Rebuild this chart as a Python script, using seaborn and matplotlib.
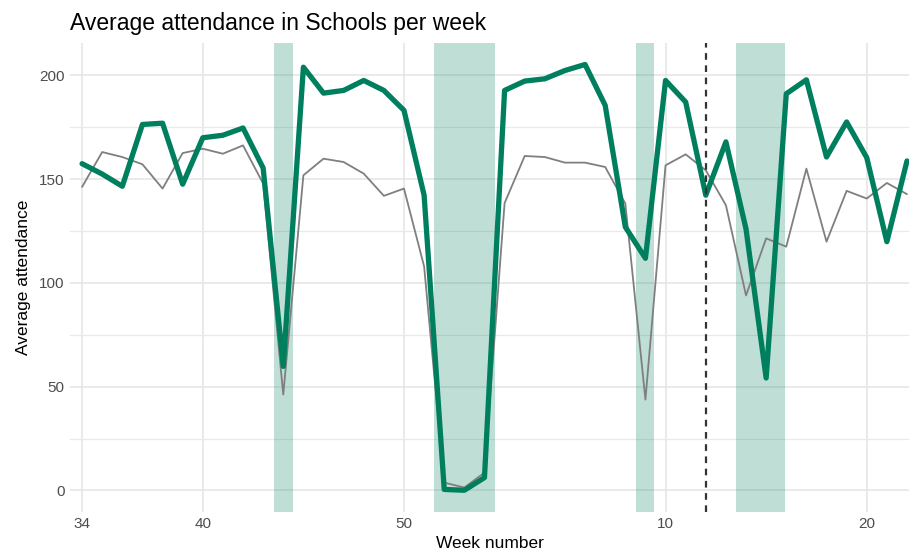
import numpy as np
import pandas as pd
import matplotlib
matplotlib.use("Agg")
import matplotlib.pyplot as plt
import seaborn as sns

# weeks: 2020 weeks 34-53, then 2021 weeks 1-22 (running index continues after 53)
weeks_2020 = list(range(34, 54))
weeks_2021 = list(range(1, 23))
week_index = weeks_2020 + [53 + w for w in weeks_2021]

attendance_school = [157.5, 152.5, 146.6, 176.4, 177.0, 147.6, 170.0, 171.2, 174.7, 155.4,
                     59.8, 204.0, 191.5, 192.8, 197.6, 192.8, 183.2, 142.3, 0.5, 0.1,
                     6.2, 192.8, 197.3, 198.4, 202.4, 205.3, 185.6, 127.0, 111.9, 197.6,
                     187.2, 142.3, 168.0, 126.0, 54.2, 191.2, 197.9, 160.7, 177.6, 160.4,
                     119.9, 158.8]
attendance_all = [146.3, 163.1, 160.7, 157.2, 145.5, 162.6, 164.7, 162.3, 166.3, 147.9,
                  46.2, 151.9, 159.9, 158.3, 152.7, 142.0, 145.5, 108.0, 3.8, 1.4,
                  8.6, 138.5, 161.2, 160.7, 158.0, 158.0, 155.9, 138.3, 43.8, 156.7,
                  162.0, 154.3, 137.5, 94.0, 121.5, 117.5, 155.1, 119.9, 144.4, 140.7,
                  148.2, 142.8]

# holiday periods (week index units)
holiday_start = [43.53, 51.5, 61.54, 66.5]
holiday_end = [44.47, 54.5, 62.44, 68.95]
marker_week = 65.0

tick_pos = [34, 40, 50, 63, 73]
tick_labels = ["34", "40", "50", "10", "20"]

df = pd.DataFrame({"week": week_index,
                   "school": attendance_school,
                   "all": attendance_all})

sns.set_theme(style="white")
plt.rcParams["font.family"] = ["Liberation Sans", "DejaVu Sans"]

green = "#007F5F"

fig = plt.figure(figsize=(9.09, 5.6), dpi=100)
ax = fig.add_axes([0.077, 0.086, 0.923, 0.837])

for s, e in zip(holiday_start, holiday_end):
    ax.axvspan(s, e, color=green, alpha=0.25, lw=0, zorder=1)

sns.lineplot(data=df, x="week", y="all", ax=ax, color="#7F7F7F", lw=1.3, zorder=3)
sns.lineplot(data=df, x="week", y="school", ax=ax, color=green, lw=3.8, zorder=4)

ax.axvline(marker_week, color="#333333", lw=1.6, ls=(0, (3, 2.5)), zorder=5)

ax.set_xlim(33.4, 75.1)
ax.set_ylim(-10.3, 215.6)
ax.set_xticks(tick_pos)
ax.set_xticklabels(tick_labels)
ax.set_yticks([0, 50, 100, 150, 200])
ax.set_yticks([25, 75, 125, 175], minor=True)

ax.grid(which="major", axis="both", color="#E6E6E6", lw=1.2, zorder=0)
ax.grid(which="minor", axis="y", color="#E9E9E9", lw=0.9, zorder=0)
ax.set_axisbelow(True)
for sp in ax.spines.values():
    sp.set_visible(False)
ax.tick_params(axis="both", length=0, labelsize=11, labelcolor="#4D4D4D", pad=4)

ax.set_xlabel("Week number", fontsize=12.5, color="black", labelpad=3)
ax.set_ylabel("Average attendance", fontsize=12.5, color="black", labelpad=6)
fig.text(0.077, 0.958, "Average attendance in Schools per week", fontsize=16.5,
         color="black", ha="left", va="center")

fig.savefig("out.png", dpi=100)
